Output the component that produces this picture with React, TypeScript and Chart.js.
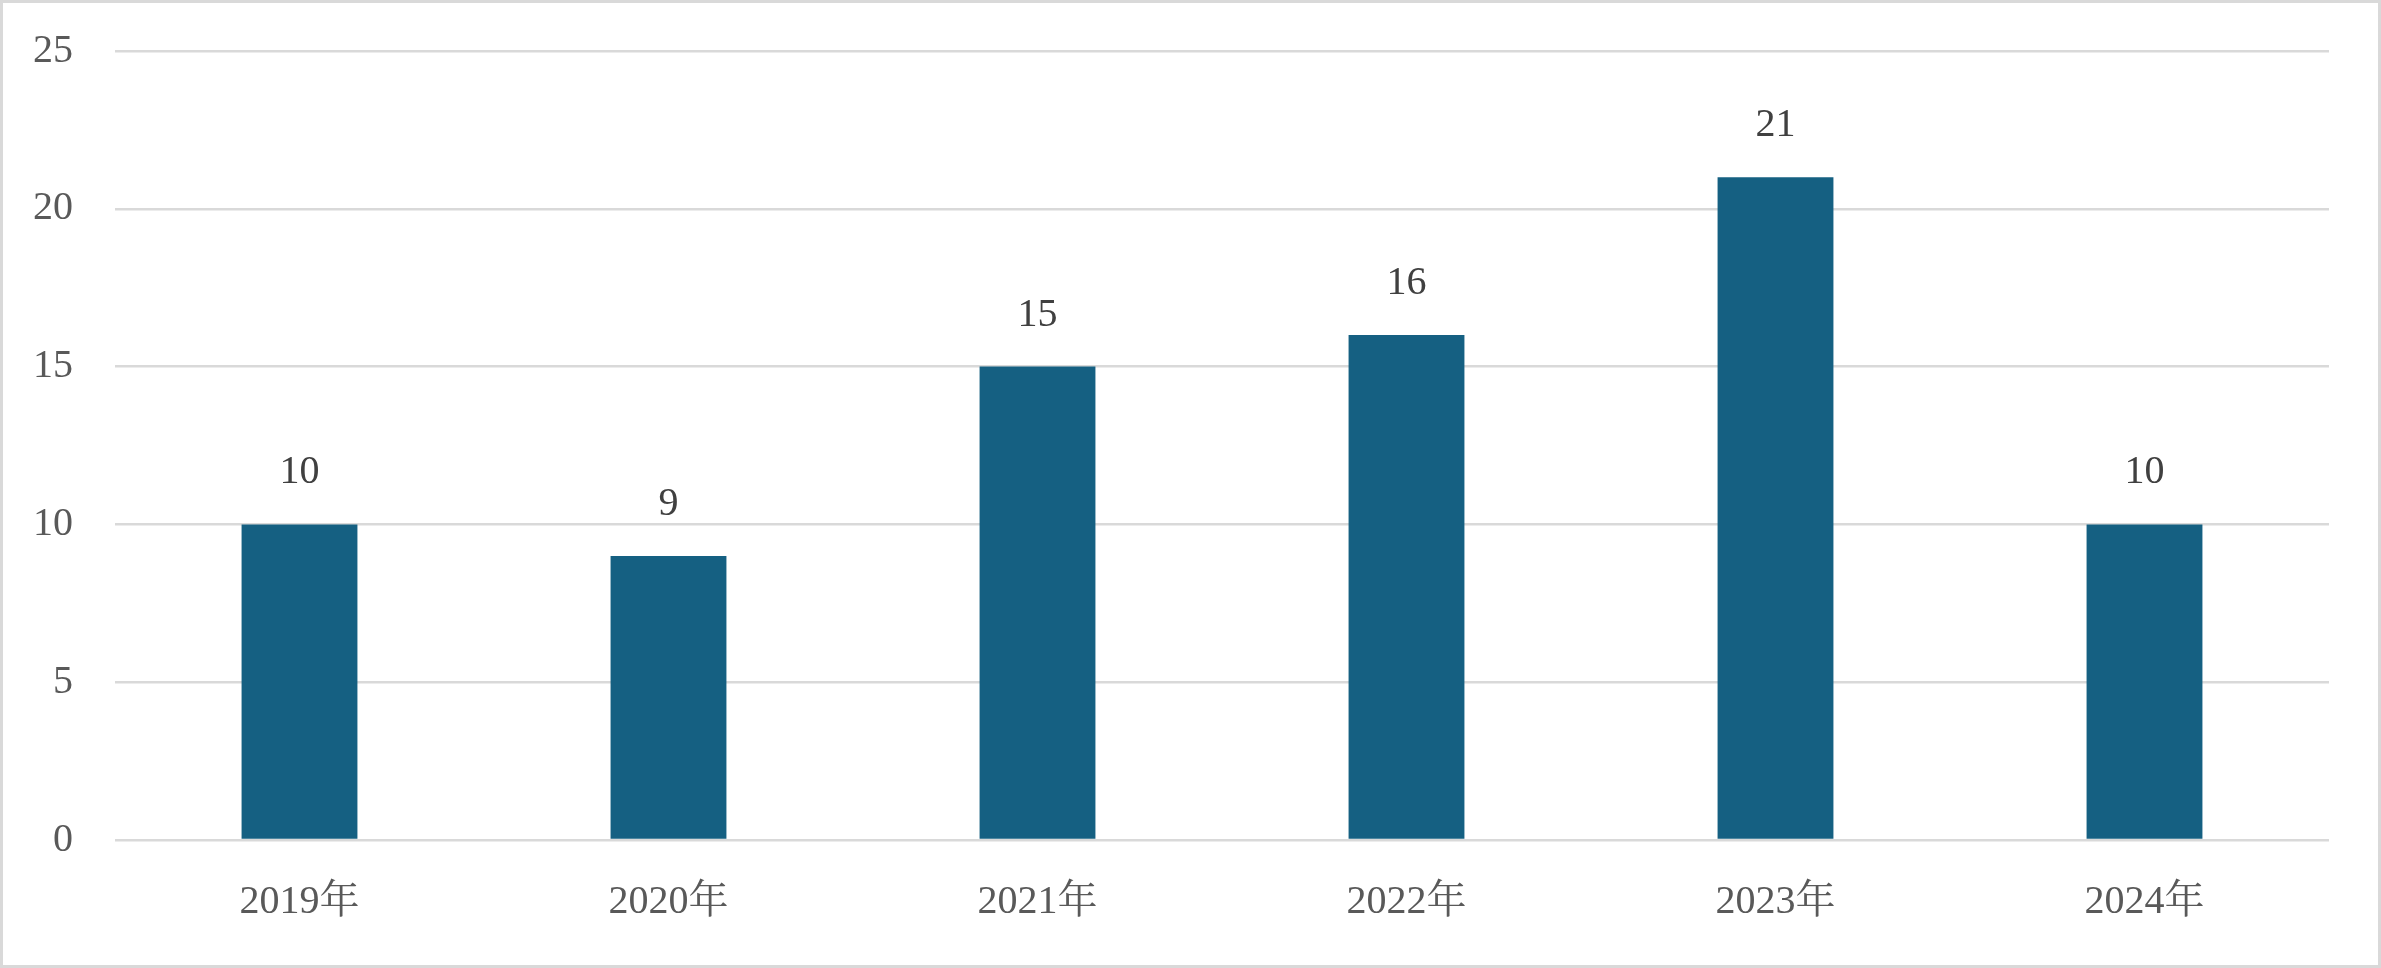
import React, { useEffect, useRef } from "react";
import { Chart, registerables } from "chart.js";

Chart.register(...registerables);

const categories = ["2019年", "2020年", "2021年", "2022年", "2023年", "2024年"];
const values = [10, 9, 15, 16, 21, 10];
const yTicks = [0, 5, 10, 15, 20, 25];

const FONT = '"Liberation Serif", "Noto Serif CJK JP", "Noto Sans CJK JP", serif';
const W = 2381;
const H = 968;
const BORDER = 3;

const dataLabelPlugin = {
  id: "dataLabels",
  afterDatasetsDraw(chart: any) {
    const ctx = chart.ctx;
    const meta = chart.getDatasetMeta(0);
    ctx.save();
    ctx.font = `40px ${FONT}`;
    ctx.fillStyle = "#404040";
    ctx.textAlign = "center";
    ctx.textBaseline = "alphabetic";
    meta.data.forEach((bar: any, i: number) => {
      ctx.fillText(String(values[i]), bar.x, bar.y - 41);
    });
    ctx.restore();
  },
};

export default function App() {
  const ref = useRef<HTMLCanvasElement | null>(null);
  useEffect(() => {
    document.body.style.margin = "0";
    const canvas = ref.current!;
    const chart = new Chart(canvas, {
      type: "bar",
      data: {
        labels: categories,
        datasets: [
          {
            data: values,
            backgroundColor: "#156082",
            barPercentage: 0.314,
            categoryPercentage: 1,
          },
        ],
      },
      options: {
        animation: false,
        responsive: false,
        devicePixelRatio: 1,
        layout: { padding: { top: 48, right: 49, left: 0, bottom: 0 } },
        plugins: { legend: { display: false }, tooltip: { enabled: false } },
        scales: {
          x: {
            grid: { display: false, drawTicks: false },
            border: { display: false },
            ticks: {
              color: "#595959",
              font: { family: FONT, size: 40 },
              padding: 38,
              maxRotation: 0,
            },
            afterFit: (s: any) => {
              s.height = H - 2 * BORDER - (840 - BORDER);
            },
          },
          y: {
            min: 0,
            max: 25,
            afterBuildTicks: (s: any) => {
              s.ticks = yTicks.map((v) => ({ value: v }));
            },
            grid: {
              color: "#d9d9d9",
              lineWidth: 2.5,
              drawTicks: true,
              tickLength: 42,
              tickColor: "rgba(0,0,0,0)",
            },
            border: { display: false },
            ticks: {
              color: "#595959",
              font: { family: FONT, size: 40 },
              padding: 0,
            },
            afterFit: (s: any) => {
              s.width = 115 - BORDER;
            },
          },
        },
      },
      plugins: [dataLabelPlugin],
    });
    return () => chart.destroy();
  }, []);
  return (
    <div
      style={{
        width: W,
        height: H,
        boxSizing: "border-box",
        border: `${BORDER}px solid #d9d9d9`,
        background: "#fff",
      }}
    >
      <canvas
        ref={ref}
        width={W - 2 * BORDER}
        height={H - 2 * BORDER}
        style={{ display: "block", width: W - 2 * BORDER, height: H - 2 * BORDER }}
      />
    </div>
  );
}
